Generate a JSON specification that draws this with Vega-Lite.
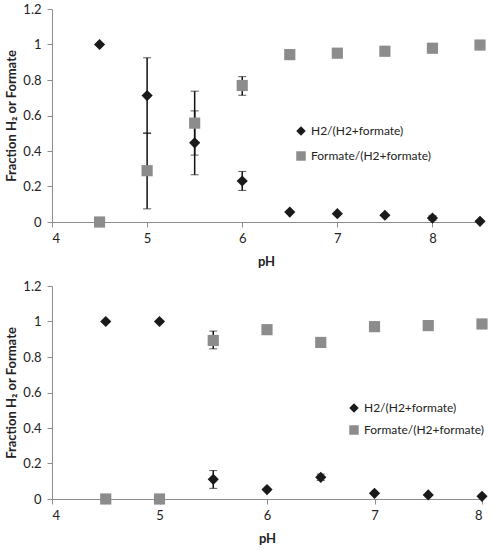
{
  "$schema": "https://vega.github.io/schema/vega-lite/v6.json",
  "background": "white",
  "padding": {"left": 5, "top": 3, "right": 2, "bottom": 3},
  "config": {
    "font": "Lato",
    "view": {"stroke": null},
    "axis": {
      "grid": false,
      "domainColor": "#8c8c8c",
      "tickColor": "#8c8c8c",
      "tickSize": 5,
      "labelFont": "Lato",
      "labelFontSize": 13,
      "labelColor": "#222222",
      "titleFont": "Lato",
      "titleFontSize": 13,
      "titleFontWeight": "bold",
      "titleColor": "#222222"
    },
    "axisX": {"labelPadding": 5, "titlePadding": 10},
    "axisY": {"labelPadding": 6, "titlePadding": 3, "minExtent": 31, "maxExtent": 31},
    "legend": {
      "labelFont": "Lato",
      "labelFontSize": 12,
      "labelColor": "#222222",
      "symbolSize": 90,
      "padding": 0,
      "symbolStrokeWidth": 0
    }
  },
  "datasets": {
    "top": [
      {"pH": 4.5, "series": "H2/(H2+formate)", "value": 1.0},
      {"pH": 5.0, "series": "H2/(H2+formate)", "value": 0.712, "lo": 0.499, "hi": 0.925},
      {"pH": 5.5, "series": "H2/(H2+formate)", "value": 0.446, "lo": 0.266, "hi": 0.626},
      {"pH": 6.0, "series": "H2/(H2+formate)", "value": 0.231, "lo": 0.178, "hi": 0.285},
      {"pH": 6.5, "series": "H2/(H2+formate)", "value": 0.056},
      {"pH": 7.0, "series": "H2/(H2+formate)", "value": 0.047},
      {"pH": 7.5, "series": "H2/(H2+formate)", "value": 0.038},
      {"pH": 8.0, "series": "H2/(H2+formate)", "value": 0.022, "lo": 0.01, "hi": 0.035},
      {"pH": 8.5, "series": "H2/(H2+formate)", "value": 0.004},
      {"pH": 4.5, "series": "Formate/(H2+formate)", "value": 0.0},
      {"pH": 5.0, "series": "Formate/(H2+formate)", "value": 0.289, "lo": 0.074, "hi": 0.502},
      {"pH": 5.5, "series": "Formate/(H2+formate)", "value": 0.557, "lo": 0.377, "hi": 0.737},
      {"pH": 6.0, "series": "Formate/(H2+formate)", "value": 0.769, "lo": 0.714, "hi": 0.819},
      {"pH": 6.5, "series": "Formate/(H2+formate)", "value": 0.943},
      {"pH": 7.0, "series": "Formate/(H2+formate)", "value": 0.951},
      {"pH": 7.5, "series": "Formate/(H2+formate)", "value": 0.962},
      {"pH": 8.0, "series": "Formate/(H2+formate)", "value": 0.979},
      {"pH": 8.5, "series": "Formate/(H2+formate)", "value": 0.997}
    ],
    "bottom": [
      {"pH": 4.5, "series": "H2/(H2+formate)", "value": 1.0},
      {"pH": 5.0, "series": "H2/(H2+formate)", "value": 1.0},
      {"pH": 5.5, "series": "H2/(H2+formate)", "value": 0.111, "lo": 0.06, "hi": 0.16},
      {"pH": 6.0, "series": "H2/(H2+formate)", "value": 0.053},
      {"pH": 6.5, "series": "H2/(H2+formate)", "value": 0.122, "lo": 0.105, "hi": 0.14},
      {"pH": 7.0, "series": "H2/(H2+formate)", "value": 0.032},
      {"pH": 7.5, "series": "H2/(H2+formate)", "value": 0.023},
      {"pH": 8.0, "series": "H2/(H2+formate)", "value": 0.015},
      {"pH": 4.5, "series": "Formate/(H2+formate)", "value": 0.0},
      {"pH": 5.0, "series": "Formate/(H2+formate)", "value": 0.0},
      {"pH": 5.5, "series": "Formate/(H2+formate)", "value": 0.893, "lo": 0.846, "hi": 0.946},
      {"pH": 6.0, "series": "Formate/(H2+formate)", "value": 0.954},
      {"pH": 6.5, "series": "Formate/(H2+formate)", "value": 0.882},
      {"pH": 7.0, "series": "Formate/(H2+formate)", "value": 0.971},
      {"pH": 7.5, "series": "Formate/(H2+formate)", "value": 0.977},
      {"pH": 8.0, "series": "Formate/(H2+formate)", "value": 0.986}
    ]
  },
  "spacing": 12,
  "vconcat": [
    {
      "width": 428,
      "height": 213,
      "data": {"name": "top"},
      "layer": [
        {
          "transform": [{"filter": "isValid(datum.lo)"}],
          "mark": {"type": "errorbar", "ticks": {"size": 8, "color": "#111111"}, "rule": {"color": "#111111", "strokeWidth": 1.5}},
          "encoding": {
            "x": {"field": "pH", "type": "quantitative", "title": "pH",
                  "scale": {"domain": [4, 8.5], "nice": false},
                  "axis": {"values": [4, 5, 6, 7, 8], "format": "~g"}},
            "y": {"field": "lo", "type": "quantitative", "title": "Fraction H₂ or Formate",
                  "scale": {"domain": [0, 1.2], "nice": false},
                  "axis": {"values": [0, 0.2, 0.4, 0.6, 0.8, 1, 1.2], "format": "~g"}},
            "y2": {"field": "hi"}
          }
        },
        {
          "mark": {"type": "point", "filled": true, "opacity": 1, "size": 125},
          "encoding": {
            "x": {"field": "pH", "type": "quantitative", "title": "pH",
                  "scale": {"domain": [4, 8.5], "nice": false},
                  "axis": {"values": [4, 5, 6, 7, 8], "format": "~g"}},
            "y": {"field": "value", "type": "quantitative", "title": "Fraction H₂ or Formate",
                  "scale": {"domain": [0, 1.2], "nice": false},
                  "axis": {"values": [0, 0.2, 0.4, 0.6, 0.8, 1, 1.2], "format": "~g"}},
            "color": {"field": "series", "type": "nominal", "title": null,
                      "scale": {"domain": ["H2/(H2+formate)", "Formate/(H2+formate)"], "range": ["#1a1a1a", "#8c8c8c"]},
                      "legend": {"orient": "none", "legendX": 243, "legendY": 116, "rowPadding": 13}},
            "shape": {"field": "series", "type": "nominal", "title": null,
                      "scale": {"domain": ["H2/(H2+formate)", "Formate/(H2+formate)"], "range": ["diamond", "square"]},
                      "legend": {"orient": "none", "legendX": 243, "legendY": 116, "rowPadding": 13}}
          }
        }
      ]
    },
    {
      "width": 430,
      "height": 213,
      "data": {"name": "bottom"},
      "layer": [
        {
          "transform": [{"filter": "isValid(datum.lo)"}],
          "mark": {"type": "errorbar", "ticks": {"size": 8, "color": "#111111"}, "rule": {"color": "#111111", "strokeWidth": 1.5}},
          "encoding": {
            "x": {"field": "pH", "type": "quantitative", "title": "pH",
                  "scale": {"domain": [4, 8], "nice": false},
                  "axis": {"values": [4, 5, 6, 7, 8], "format": "~g"}},
            "y": {"field": "lo", "type": "quantitative", "title": "Fraction H₂ or Formate",
                  "scale": {"domain": [0, 1.2], "nice": false},
                  "axis": {"values": [0, 0.2, 0.4, 0.6, 0.8, 1, 1.2], "format": "~g"}},
            "y2": {"field": "hi"}
          }
        },
        {
          "mark": {"type": "point", "filled": true, "opacity": 1, "size": 125},
          "encoding": {
            "x": {"field": "pH", "type": "quantitative", "title": "pH",
                  "scale": {"domain": [4, 8], "nice": false},
                  "axis": {"values": [4, 5, 6, 7, 8], "format": "~g"}},
            "y": {"field": "value", "type": "quantitative", "title": "Fraction H₂ or Formate",
                  "scale": {"domain": [0, 1.2], "nice": false},
                  "axis": {"values": [0, 0.2, 0.4, 0.6, 0.8, 1, 1.2], "format": "~g"}},
            "color": {"field": "series", "type": "nominal", "title": null,
                      "scale": {"domain": ["H2/(H2+formate)", "Formate/(H2+formate)"], "range": ["#1a1a1a", "#8c8c8c"]},
                      "legend": {"orient": "none", "legendX": 296, "legendY": 116, "rowPadding": 10}},
            "shape": {"field": "series", "type": "nominal", "title": null,
                      "scale": {"domain": ["H2/(H2+formate)", "Formate/(H2+formate)"], "range": ["diamond", "square"]},
                      "legend": {"orient": "none", "legendX": 296, "legendY": 116, "rowPadding": 10}}
          }
        }
      ]
    }
  ],
  "resolve": {
    "scale": {"x": "independent", "y": "independent", "color": "independent", "shape": "independent"},
    "legend": {"color": "independent", "shape": "independent"}
  }
}
